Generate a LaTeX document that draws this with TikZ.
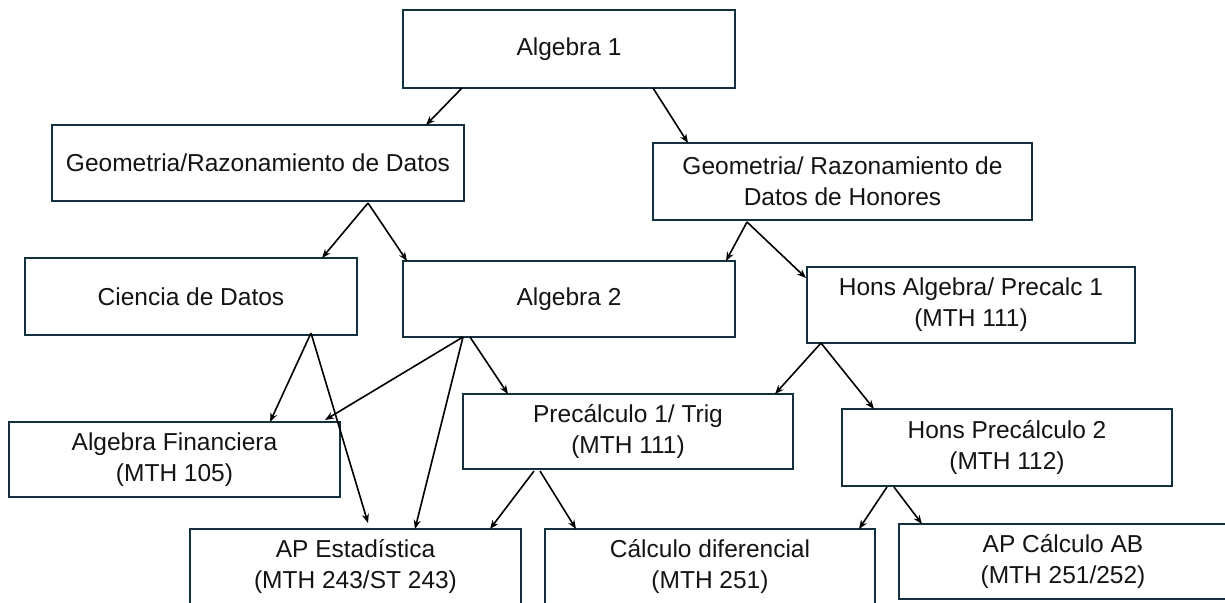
\documentclass[tikz,border=0pt]{standalone}
\usepackage{fontspec}
\setmainfont{Liberation Sans}
\usetikzlibrary{arrows.meta}
\definecolor{boxline}{HTML}{13303F}
\definecolor{txt}{HTML}{141414}
\tikzset{
  box/.style={draw=boxline, line width=2pt, rectangle, outer sep=0pt, inner sep=0pt,
    align=center, text=txt, font=\fontsize{24.5}{31}\selectfont,
    minimum width=330pt, minimum height=76pt},
  arr/.style={draw=black, line width=1.6pt, -{Stealth[length=9pt,width=7pt]}}
}
\begin{document}
\begin{tikzpicture}[x=1pt,y=-1pt]
\useasboundingbox (0,0) rectangle (1225,602);
\clip (0,0) rectangle (1225,602);
\fill[white] (0,0) rectangle (1225,602);

\node[box, minimum width=332pt, minimum height=78pt] (alg1) at (569,49) {Algebra 1};
\node[box, minimum width=412pt] (geo) at (258,163) {Geometria/Razonamiento de Datos};
\node[box, minimum width=379pt, minimum height=77pt] (geoh) at (842.5,181.5) {Geometria/ Razonamiento de\\Datos de Honores};
\node[box, minimum width=332pt, minimum height=77pt] (cien) at (191,296.5) {Ciencia de Datos};
\node[box, minimum width=332pt] (alg2) at (569,299) {Algebra 2};
\node[box, minimum width=328pt] (hons) at (971,305) {Hons Algebra/ Precalc 1\\(MTH 111)};
\node[box, minimum width=331pt, minimum height=75pt] (fin) at (174.5,459.5) {Algebra Financiera\\(MTH 105)};
\node[box, minimum height=75pt] (pre1) at (628,431.5) {Precálculo 1/ Trig\\(MTH 111)};
\node[box, minimum height=77pt] (hp2) at (1007,447.5) {Hons Precálculo 2\\(MTH 112)};
\node[box, minimum width=331pt] (est) at (355.5,567) {AP Estadística\\(MTH 243/ST 243)};
\node[box] (cdif) at (710,567) {Cálculo diferencial\\(MTH 251)};
\node[box, minimum width=328pt, minimum height=75pt] (apab) at (1063,561.5) {AP Cálculo AB\\(MTH 251/252)};

\draw[arr] ([xshift=59pt]alg1.south west) -- ([xshift=374pt]geo.north west);
\draw[arr] ([xshift=250pt]alg1.south west) -- ([xshift=35pt]geoh.north west);
\draw[arr] ([xshift=316pt,yshift=-2pt]geo.south west) -- ([xshift=297pt]cien.north west);
\draw[arr] ([xshift=316pt,yshift=-2pt]geo.south west) -- ([xshift=4pt]alg2.north west);
\draw[arr] ([xshift=94pt,yshift=-2pt]geoh.south west) -- ([xshift=323pt]alg2.north west);
\draw[arr] ([xshift=94pt,yshift=-2pt]geoh.south west) -- ([xshift=-1pt,yshift=-11pt]hons.north west);
\draw[arr] ([xshift=286pt,yshift=2pt]cien.south west) -- ([xshift=261pt]fin.north west);
\draw[arr] ([xshift=286pt,yshift=2pt]cien.south west) -- ([xshift=178pt,yshift=6pt]est.north west);
\draw[arr] ([xshift=60pt]alg2.south west) -- ([xshift=316pt,yshift=2pt]fin.north west);
\draw[arr] ([xshift=60pt]alg2.south west) -- ([xshift=225pt]est.north west);
\draw[arr] ([xshift=67pt]alg2.south west) -- ([xshift=45pt]pre1.north west);
\draw[arr] ([xshift=14pt]hons.south west) -- ([xshift=312pt]pre1.north west);
\draw[arr] ([xshift=14pt]hons.south west) -- ([xshift=32pt]hp2.north west);
\draw[arr] ([xshift=71pt,yshift=-2pt]pre1.south west) -- ([xshift=300pt]est.north west);
\draw[arr] ([xshift=77pt,yshift=-2pt]pre1.south west) -- ([xshift=31pt]cdif.north west);
\draw[arr] ([xshift=45pt,yshift=-1pt]hp2.south west) -- ([xshift=314pt]cdif.north west);
\draw[arr] ([xshift=52pt,yshift=-1pt]hp2.south west) -- ([xshift=23pt]apab.north west);
\end{tikzpicture}
\end{document}
